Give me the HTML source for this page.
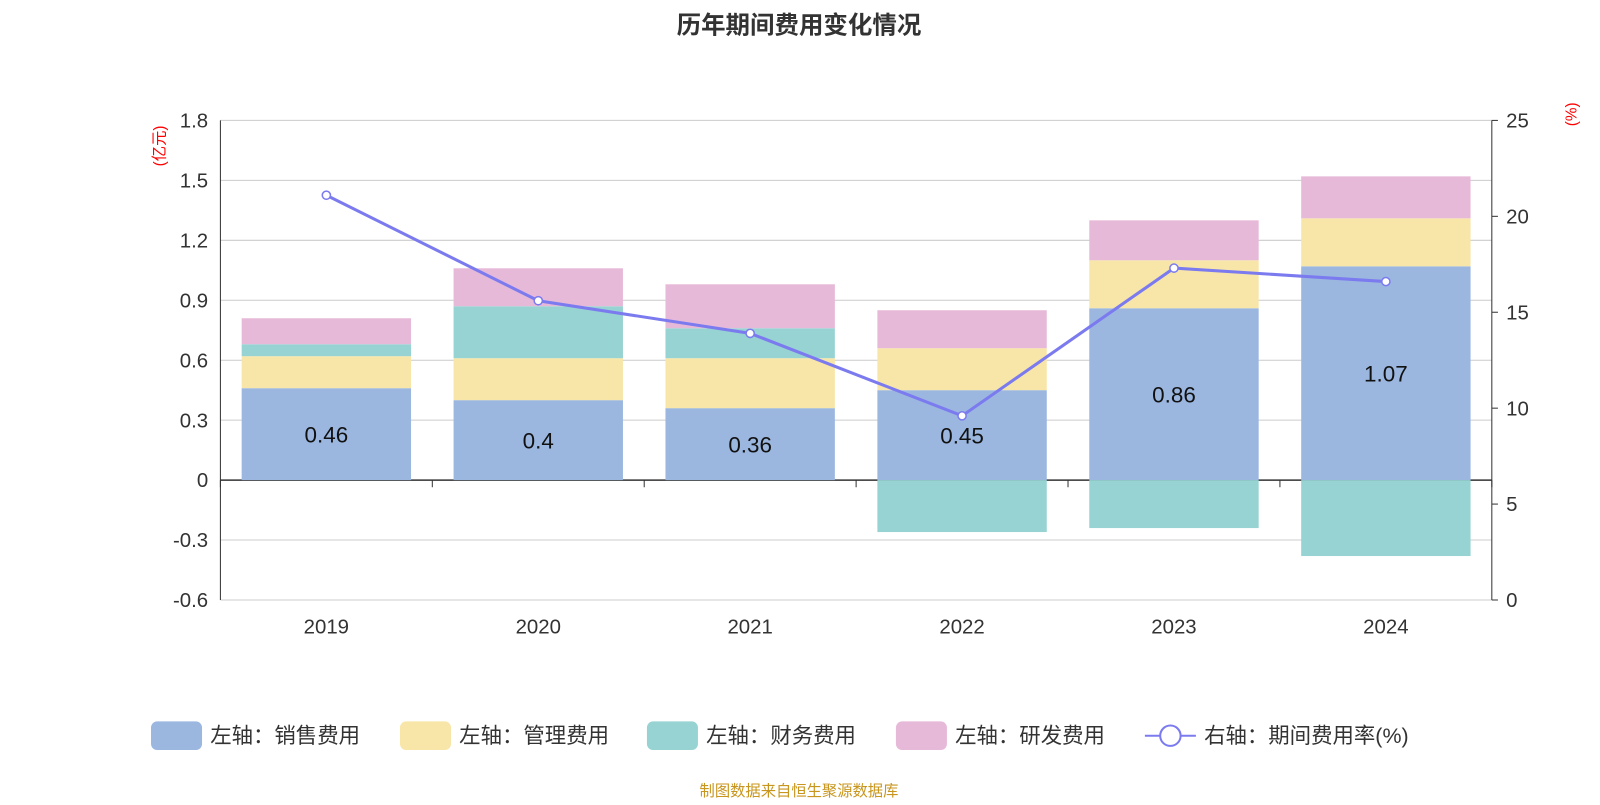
<!DOCTYPE html>
<html><head><meta charset="utf-8"><style>
body{margin:0;background:#fff;font-family:"Liberation Sans","Noto Sans CJK SC",sans-serif;}
</style></head><body>
<svg id="c" width="1600" height="800" xmlns="http://www.w3.org/2000/svg" style="font-family:'Liberation Sans','Noto Sans CJK SC',sans-serif">
<g transform="scale(1.0204)">
<text x="783" y="33" text-anchor="middle" font-size="24" font-weight="bold" fill="#333">历年期间费用变化情况</text>
<text x="783" y="780" text-anchor="middle" font-size="15" fill="#c8961e">制图数据来自恒生聚源数据库</text>
<g id="g"></g>
</g>
</svg>
<script>
const years=['2019','2020','2021','2022','2023','2024'];
const sales=[0.46,0.40,0.36,0.45,0.86,1.07];
const mgmt=[0.16,0.21,0.25,0.21,0.24,0.24];
const fin=[0.06,0.26,0.15,-0.26,-0.24,-0.38];
const rd=[0.13,0.19,0.22,0.19,0.20,0.21];
const rate=[21.1,15.6,13.9,9.6,17.3,16.6];
const leftTicks=[-0.6,-0.3,0,0.3,0.6,0.9,1.2,1.5,1.8];
const rightTicks=[0,5,10,15,20,25];
const NS='http://www.w3.org/2000/svg',g=document.getElementById('g');
const X0=216,X1=1462,Y0=588,Y1=118;
const yL=v=>Y0-(v+0.6)/2.4*(Y0-Y1);
const yR=v=>Y0-v/25*(Y0-Y1);
const bw=(X1-X0)/years.length;
const xc=i=>X0+bw*(i+0.5);
function el(t,a,p){const e=document.createElementNS(NS,t);for(const k in a)e.setAttribute(k,a[k]);(p||g).appendChild(e);return e;}
leftTicks.forEach(v=>{
 const l=el('line',{x1:X0,x2:X1,y1:yL(v),y2:yL(v),stroke:v===0?'#333':'#ccc','stroke-width':v===0?1.5:1});
 
 
 const t=el('text',{x:X0-12,y:yL(v)+7,'text-anchor':'end','font-size':20,fill:'#333'});t.textContent=String(v);
 
 
});
rightTicks.forEach(v=>{
 const t=el('text',{x:X1+14,y:yR(v)+7,'font-size':20,fill:'#333'});t.textContent=v;
 
 
 el('line',{x1:X1,x2:X1+6,y1:yR(v),y2:yR(v),stroke:'#333'});
});
el('line',{x1:X0,x2:X0,y1:Y1,y2:Y0,stroke:'#333'});
el('line',{x1:X1,x2:X1,y1:Y1,y2:Y0,stroke:'#333'});
for(let i=0;i<=years.length;i++)el('line',{x1:X0+bw*i,x2:X0+bw*i,y1:yL(0),y2:yL(0)+7,stroke:'#333'});
let t=el('text',{x:161,y:143,'font-size':15,fill:'red',transform:'rotate(-90 161 143)','text-anchor':'middle'});t.textContent='(亿元)';

t=el('text',{x:1545,y:112,'font-size':15,fill:'red',transform:'rotate(-90 1545 112)','text-anchor':'middle'});t.textContent='(%)';

const cols=['#9bb7e0','#f8e6a8','#97d3d3','#e7b9d8'];
const series=[sales,mgmt,fin,rd];
years.forEach((y,i)=>{
 let pos=0,neg=0;
 series.forEach((s,k)=>{
  const v=s[i];let a,b;
  if(v>=0){a=pos;b=pos+v;pos=b;}else{a=neg;b=neg+v;neg=b;}
  const r=el('rect',{x:xc(i)-83,width:166,y:Math.min(yL(a),yL(b)),height:Math.abs(yL(a)-yL(b)),fill:cols[k]});
  
  
 });
 const lb=el('text',{x:xc(i),y:yL(sales[i]/2)+8,'text-anchor':'middle','font-size':22,fill:'#111'});lb.textContent=sales[i];
 
 const xl=el('text',{x:xc(i),y:621,'text-anchor':'middle','font-size':20,fill:'#333'});xl.textContent=y;
 
});
const ln=el('polyline',{points:rate.map((v,i)=>xc(i)+','+yR(v)).join(' '),fill:'none',stroke:'#7b7bef','stroke-width':3});

rate.forEach((v,i)=>{const c=el('circle',{cx:xc(i),cy:yR(v),r:4,fill:'#fff',stroke:'#7b7bef','stroke-width':1.5});
 });
const leg=[['左轴：销售费用',148],['左轴：管理费用',392],['左轴：财务费用',634],['左轴：研发费用',878]];
leg.forEach((l,k)=>{
 const gg=el('g',{});
 el('rect',{x:l[1],y:707,width:50,height:28,rx:6,fill:cols[k]},gg);
 const tt=el('text',{x:l[1]+58,y:728,'font-size':21,fill:'#333'},gg);tt.textContent=l[0];
});
const g2=el('g',{});
el('line',{x1:1122,x2:1172,y1:721,y2:721,stroke:'#7b7bef','stroke-width':2},g2);
el('circle',{cx:1147,cy:721,r:10,fill:'#fff',stroke:'#7b7bef','stroke-width':2},g2);
const t2=el('text',{x:1180,y:728,'font-size':21,fill:'#333'},g2);t2.textContent='右轴：期间费用率(%)';
</script>
</body></html>
